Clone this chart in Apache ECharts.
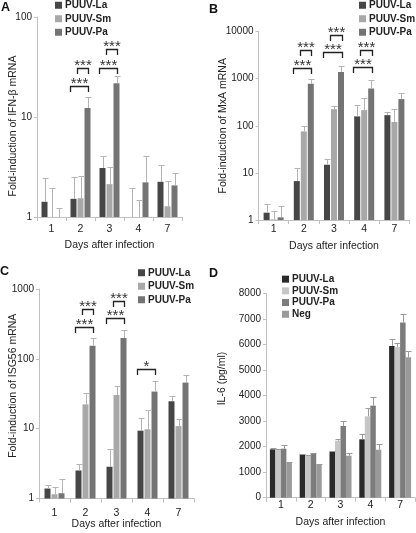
<!DOCTYPE html>
<html><head><meta charset="utf-8">
<script src="https://cdn.jsdelivr.net/npm/echarts@6/dist/echarts.min.js"></script>
<style>html,body{margin:0;padding:0;background:#fff}#c{width:416px;height:533px}</style>
</head><body><div id="c"></div>
<script>
const days = ['1', '2', '3', '4', '7'];
const seriesNames = ['PUUV-La', 'PUUV-Sm', 'PUUV-Pa', 'Neg'];

// Panel A: IFN-beta fold induction (mean, upper error)
const aLa = [1.42, 1.52, 3.09, 1, 2.25];
const aLaErr = [2.43, 2.49, 4.11, 1.97, 3.29];
const aSm = [1, 1.54, 2.13, 1, 1.28];
const aSmErr = [1.93, 2.57, 3.19, 1.49, 2.29];
const aPa = [1, 12.3, 21.7, 2.22, 2.07];
const aPaErr = [1.24, 15.9, 25.7, 4.11, 2.77];
const aSig = [[1, 0, 2, 20.3, '***'], [1, 1, 2, 31.1, '***'], [2, 0, 2, 31.1, '***'], [2, 1, 2, 47.5, '***']];

// Panel B: MxA
const bLa = [1.43, 6.7, 14.9, 158, 168];
const bLaErr = [2.22, 12.5, 19.3, 269, 195];
const bSm = [1.03, 75.8, 225, 215, 120];
const bSmErr = [1.53, 96.8, 261, 380, 225];
const bPa = [1.14, 777, 1374, 618, 368];
const bPaErr = [1.98, 975, 1811, 944, 493];
const bSig = [[1, 0, 2, 1694, '***'], [1, 1, 2, 4018, '***'], [2, 0, 2, 3591, '***'], [2, 1, 2, 8356, '***'], [3, 0, 2, 1778, '***'], [3, 1, 2, 4018, '***']];

// Panel C: ISG56
const cLa = [1.39, 2.52, 2.85, 9.36, 24.7];
const cLaErr = [1.55, 3.11, 5.05, 14.1, 29.1];
const cSm = [1.15, 22.3, 30.4, 9.8, 10.9];
const cSmErr = [1.45, 32.9, 40.5, 18.3, 13.6];
const cPa = [1.19, 154, 198, 34, 45.7];
const cPaErr = [1.9, 202, 258, 48.3, 58.9];
const cSig = [[1, 0, 2, 290, '***'], [1, 1, 2, 521, '***'], [2, 0, 2, 384, '***'], [2, 1, 2, 663, '***'], [3, 0, 2, 71.8, '*']];

// Panel D: IL-6 (pg/ml)
const dLa = [1893, 1697, 1802, 2285, 5940];
const dLaErr = [1932, 1723, 1815, 2493, 6214];
const dSm = [1893, 1658, 2232, 3185, 5901];
const dSmErr = [1906, 1684, 2311, 3499, 6044];
const dPa = [1919, 1749, 2807, 3603, 6854];
const dPaErr = [2076, 1762, 3003, 3930, 7193];
const dNeg = [1371, 1305, 1645, 1880, 5496];
const dNegErr = [1410, 1318, 1762, 2089, 5731];

const FONT = "'Liberation Sans', Arial, sans-serif";
const TXT = '#222';
const AX = '#c0c0c0';
const colsABC = ['#464646', '#a8a8a8', '#747474'];
const colsD = ['#2a2a2a', '#c6c6c6', '#7c7c7c', '#9a9a9a'];

const panels = [
  {grid: {left: 37, top: 17, width: 145, height: 200}, log: true, min: 1, max: 100,
   name: 'Fold-induction of IFN-β mRNA', namePad: [0, 18, 0, 0], yGap: 18, xLabM: 7, xGap: 23,
   vals: [aLa, aSm, aPa], errs: [aLaErr, aSmErr, aPaErr],
   sig: aSig, cols: colsABC, w: 6, gap: 1, errCol: '#b4b4b4',
   legend: {left: 55, top: -1}},
  {grid: {left: 258.5, top: 31.5, width: 151, height: 188.5}, log: true, min: 1, max: 10000,
   name: 'Fold-induction of MxA mRNA', namePad: [0, 0, 0, 0], yGap: 29.5, xLabM: 4, xGap: 20.5,
   vals: [bLa, bSm, bPa], errs: [bLaErr, bSmErr, bPaErr],
   sig: bSig, cols: colsABC, w: 6, gap: 1, errCol: '#b4b4b4',
   legend: {left: 359, top: -1}},
  {grid: {left: 39, top: 289, width: 155, height: 209.5}, log: true, min: 1, max: 1000,
   name: 'Fold-induction of ISG56 mRNA', namePad: [0, 0, 0, 16], yGap: 20.5, xLabM: 9, xGap: 20,
   vals: [cLa, cSm, cPa], errs: [cLaErr, cSmErr, cPaErr],
   sig: cSig, cols: colsABC, w: 6, gap: 1, errCol: '#b4b4b4',
   legend: {left: 138, top: 266.5}},
  {grid: {left: 266, top: 293.3, width: 149, height: 204.4}, log: false, min: 0, max: 8000, interval: 1000,
   name: 'IL-6 (pg/ml)', namePad: [0, 0, 0, 34], yGap: 38.5, xLabM: 2, xGap: 19,
   vals: [dLa, dSm, dPa, dNeg], errs: [dLaErr, dSmErr, dPaErr, dNegErr],
   sig: [], cols: colsD, w: 5.5, gap: 0, errCol: '#9a9a9a',
   legend: {left: 282, top: 273.3}}
];

const grid = [], xAxis = [], yAxis = [], series = [], legend = [];
panels.forEach((p, k) => {
  grid.push(Object.assign({containLabel: false}, p.grid));
  xAxis.push({
    type: 'category', gridIndex: k, data: days, boundaryGap: true,
    axisLine: {lineStyle: {color: AX, width: 1}},
    axisTick: {show: true, interval: 0, length: 4, lineStyle: {color: AX}},
    axisLabel: {color: TXT, fontSize: 10.5, fontFamily: FONT, margin: p.xLabM},
    name: 'Days after infection', nameLocation: 'middle', nameGap: p.xGap, nameMoveOverlap: false,
    nameTextStyle: {color: TXT, fontSize: 10.5, fontFamily: FONT}
  });
  const ya = {
    gridIndex: k, min: p.min, max: p.max,
    axisLine: {show: true, lineStyle: {color: AX, width: 1}},
    axisTick: {show: true, length: 3, lineStyle: {color: AX}},
    splitLine: {show: false},
    axisLabel: {color: TXT, fontSize: 10, fontFamily: FONT, margin: 5, formatter: v => String(v)},
    name: p.name, nameLocation: 'middle', nameRotate: 90, nameGap: p.yGap, nameMoveOverlap: false,
    nameTextStyle: {color: TXT, fontSize: 10.5, fontFamily: FONT, padding: p.namePad}
  };
  if (p.log) { ya.type = 'log'; ya.logBase = 10; } else { ya.type = 'value'; ya.interval = p.interval; }
  yAxis.push(ya);

  const n = p.vals.length;
  const total = n * p.w + (n - 1) * p.gap;
  const off = i => -total / 2 + i * (p.w + p.gap) + p.w / 2;

  p.vals.forEach((v, i) => {
    series.push({
      type: 'bar', name: seriesNames[i], xAxisIndex: k, yAxisIndex: k, data: v,
      barWidth: p.w, barGap: (p.gap / p.w * 100) + '%',
      itemStyle: {color: p.cols[i]}, silent: true, animation: false
    });
  });
  p.errs.forEach((e, i) => {
    series.push({
      type: 'custom', xAxisIndex: k, yAxisIndex: k, z: 4, silent: true, animation: false,
      encode: {x: 0, y: [1, 2]},
      data: days.map((d, j) => [j, p.vals[i][j], e[j]]),
      renderItem: (params, api) => {
        const c = api.value(0);
        const a = api.coord([c, api.value(1)]);
        const b = api.coord([c, api.value(2)]);
        const x = Math.round(a[0] + off(i)) + 0.5;
        const yb = Math.round(b[1]) + 0.5;
        return {type: 'group', children: [
          {type: 'line', shape: {x1: x, y1: a[1], x2: x, y2: yb}, style: {stroke: p.errCol, lineWidth: 1}},
          {type: 'line', shape: {x1: x - 3, y1: yb, x2: x + 3, y2: yb}, style: {stroke: p.errCol, lineWidth: 1}}
        ]};
      }
    });
  });
  if (p.sig.length) {
    series.push({
      type: 'custom', xAxisIndex: k, yAxisIndex: k, z: 5, silent: true, animation: false,
      encode: {x: 0, y: 3},
      data: p.sig.map(s => [s[0], s[1], s[2], s[3]]),
      renderItem: (params, api) => {
        const s = p.sig[params.dataIndex];
        const pt = api.coord([s[0], s[3]]);
        const x1 = Math.round(pt[0] + off(s[1]) - 4) + 0.5;
        const x2 = Math.round(pt[0] + off(s[2]) + 0.5) + 0.5;
        const y = Math.round(pt[1]) + 0.5;
        return {type: 'group', children: [
          {type: 'polyline', shape: {points: [[x1, y + 5.5], [x1, y], [x2, y], [x2, y + 5.5]]},
           style: {stroke: '#222', lineWidth: 1.3, fill: null}},
          {type: 'text', x: (x1 + x2) / 2, y: y - 2.5,
           style: {text: s[4], fill: '#333', font: '15px ' + FONT, textAlign: 'center', textVerticalAlign: 'middle'}}
        ]};
      }
    });
  }
  legend.push({
    orient: 'vertical', left: p.legend.left, top: p.legend.top, padding: 0,
    itemWidth: 7, itemHeight: 7, itemGap: k === 3 ? 0 : 1, icon: 'rect',
    selectedMode: false,
    textStyle: {color: TXT, fontSize: 10, fontWeight: 'bold', fontFamily: FONT, lineHeight: k === 3 ? 11.7 : 12.5, padding: [0, 0, 0, -2]},
    data: p.vals.map((v, i) => ({name: seriesNames[i], itemStyle: {color: p.cols[i]}}))
  });
});

const title = [['A', 1, 1], ['B', 209, 3], ['C', 0, 265], ['D', 209, 267]].map(t => ({
  text: t[0], left: t[1], top: t[2], padding: 0,
  textStyle: {fontSize: 12.5, fontWeight: 'bold', color: '#111', fontFamily: FONT}
}));

const chart = echarts.init(document.getElementById('c'), null, {renderer: 'canvas'});
chart.setOption({animation: false, textStyle: {fontFamily: FONT}, title, grid, xAxis, yAxis, series, legend});
</script></body></html>
